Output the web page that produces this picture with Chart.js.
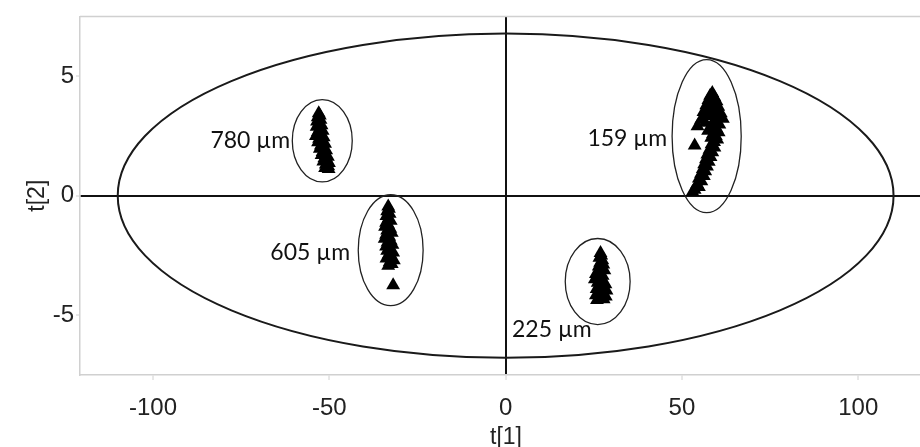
<!DOCTYPE html>
<html>
<head>
<meta charset="utf-8">
<script src="https://cdn.jsdelivr.net/npm/chart.js@4/dist/chart.umd.min.js"></script>
<style>
  html, body { margin: 0; padding: 0; background: #fff; overflow: hidden; }
  #wrap { width: 920px; height: 447px; overflow: hidden; }
</style>
</head>
<body>
<div id="wrap"><canvas id="c" width="932" height="447"></canvas></div>
<script>
// Score plot: t[1] vs t[2] for four particle sizes
const xTicks = [-100, -50, 0, 50, 100];
const yTicks = [-5, 0, 5];

const groupNames = ['780 µm', '605 µm', '159 µm', '225 µm'];

// [t1, t2] scores per sample
const scores780 = [
  [-53.0, 3.45], [-52.7, 3.35], [-53.3, 3.28], [-52.5, 3.18], [-53.5, 3.10],
  [-52.9, 3.02], [-52.2, 2.95], [-53.6, 2.88], [-52.7, 2.80], [-51.9, 2.72],
  [-53.3, 2.65], [-52.4, 2.58], [-53.8, 2.50], [-51.6, 2.44], [-52.9, 2.38],
  [-52.0, 2.30], [-53.2, 2.24], [-51.2, 2.17], [-52.4, 2.10], [-51.6, 2.03],
  [-52.7, 1.96], [-50.9, 1.90], [-51.9, 1.83], [-51.2, 1.77], [-52.2, 1.70],
  [-50.4, 1.63], [-51.4, 1.57], [-50.7, 1.50], [-51.7, 1.43], [-50.1, 1.37],
  [-51.0, 1.30], [-50.3, 1.23], [-51.2, 1.16], [-50.2, 1.12]
];
const scores605 = [
  [-33.3, -0.45], [-33.1, -0.55], [-33.6, -0.65], [-32.9, -0.75], [-33.8, -0.85],
  [-33.2, -0.95], [-32.6, -1.05], [-33.9, -1.13], [-33.3, -1.22], [-34.2, -1.30],
  [-32.7, -1.38], [-33.6, -1.46], [-32.3, -1.55], [-33.9, -1.63], [-33.0, -1.72],
  [-34.3, -1.80], [-32.6, -1.88], [-33.5, -1.96], [-32.1, -2.05], [-33.9, -2.13],
  [-32.8, -2.22], [-33.6, -2.30], [-31.9, -2.38], [-33.2, -2.47], [-32.5, -2.55],
  [-33.8, -2.63], [-31.7, -2.70], [-32.9, -2.78], [-32.3, -2.86], [-33.3, -2.93],
  [-31.9, -3.75]
];
const scores159 = [
  [58.6, 4.30], [58.0, 4.18], [59.2, 4.12], [57.5, 4.00], [59.8, 3.95],
  [58.4, 3.85], [56.9, 3.78], [60.3, 3.72], [57.8, 3.62], [59.4, 3.58],
  [56.1, 3.50], [61.0, 3.45], [58.6, 3.40], [57.2, 3.33], [60.2, 3.28],
  [61.6, 3.22], [55.4, 3.18], [59.0, 3.10], [56.6, 3.05], [60.6, 2.98],
  [54.4, 2.90], [58.2, 2.88], [59.8, 2.80], [57.4, 2.72], [60.4, 2.65],
  [58.8, 2.58], [59.6, 2.50], [58.3, 2.42], [60.0, 2.35], [59.1, 2.25],
  [58.4, 2.15], [53.6, 2.10], [59.2, 2.02], [57.8, 1.92], [58.6, 1.82],
  [57.2, 1.72], [58.1, 1.62], [56.8, 1.52], [57.6, 1.42], [56.3, 1.32],
  [57.1, 1.22], [55.9, 1.12], [56.6, 1.02], [55.4, 0.92], [56.2, 0.82],
  [54.8, 0.72], [55.5, 0.60], [54.3, 0.48], [54.8, 0.36], [53.6, 0.25],
  [53.0, 0.15]
];
const scores225 = [
  [26.9, -2.40], [27.1, -2.50], [26.6, -2.60], [27.4, -2.70], [26.8, -2.80],
  [27.7, -2.88], [26.4, -2.96], [27.3, -3.04], [28.0, -3.12], [26.7, -3.20],
  [25.6, -3.28], [27.5, -3.35], [26.2, -3.42], [25.3, -3.50], [27.0, -3.57],
  [26.1, -3.64], [28.3, -3.70], [26.8, -3.77], [27.6, -3.84], [25.8, -3.90],
  [28.6, -3.97], [26.5, -4.03], [27.4, -4.10], [25.6, -4.16], [28.4, -4.22],
  [26.8, -4.28], [27.8, -4.33], [25.9, -4.36]
];

// Hotelling T2 ellipse (semi-axes in t[1], t[2] units)
const t2Radius = [110, 6.78];

// Group ellipses: centres and semi-axes
const groupCx = [-52.0, -32.6, 57.0, 26.1];
const groupCy = [2.30, -2.28, 2.49, -3.59];
const groupRx = [8.5, 9.2, 9.8, 9.2];
const groupRy = [1.72, 2.32, 3.20, 1.80];

// Group label anchors (data units) and alignment
const labelAnchors = [
  { x: -61.1, y: 2.32, align: 'right' },
  { x: -44.1, y: -2.37, align: 'right' },
  { x: 45.8, y: 2.37, align: 'right' },
  { x: 1.8, y: -5.6, align: 'left' }
];

const toPts = arr => arr.map(p => ({ x: p[0], y: p[1] }));

const overlay = {
  id: 'overlay',
  beforeDatasetsDraw(chart) {
    const { ctx, chartArea: a, scales: { x, y } } = chart;
    ctx.save();
    // top frame line
    ctx.strokeStyle = '#d0d0d0';
    ctx.lineWidth = 1.5;
    ctx.beginPath();
    ctx.moveTo(a.left, a.top);
    ctx.lineTo(a.right, a.top);
    ctx.stroke();

    ctx.beginPath();
    ctx.rect(a.left, a.top, a.right - a.left, a.bottom - a.top);
    ctx.clip();

    // T2 ellipse
    const cx0 = x.getPixelForValue(0), cy0 = y.getPixelForValue(0);
    ctx.strokeStyle = '#1a1a1a';
    ctx.lineWidth = 2;
    ctx.beginPath();
    ctx.ellipse(cx0, cy0,
      Math.abs(x.getPixelForValue(t2Radius[0]) - cx0),
      Math.abs(y.getPixelForValue(t2Radius[1]) - cy0), 0, 0, Math.PI * 2);
    ctx.stroke();

    // group ellipses
    ctx.lineWidth = 1.3;
    ctx.strokeStyle = '#222';
    for (let i = 0; i < groupCx.length; i++) {
      const px = x.getPixelForValue(groupCx[i]);
      const py = y.getPixelForValue(groupCy[i]);
      const rx = Math.abs(x.getPixelForValue(groupCx[i] + groupRx[i]) - px);
      const ry = Math.abs(y.getPixelForValue(groupCy[i] + groupRy[i]) - py);
      ctx.beginPath();
      ctx.ellipse(px, py, rx, ry, 0, 0, Math.PI * 2);
      ctx.stroke();
    }
    ctx.restore();
  },
  afterDatasetsDraw(chart) {
    const { ctx, scales: { x, y } } = chart;
    ctx.save();
    ctx.fillStyle = '#111';
    ctx.font = '23px Lato, "Open Sans", sans-serif';
    ctx.textBaseline = 'middle';
    labelAnchors.forEach((l, i) => {
      ctx.textAlign = l.align;
      ctx.fillText(groupNames[i], x.getPixelForValue(l.x), y.getPixelForValue(l.y));
    });
    ctx.restore();
  }
};

const zeroLine = ctx => (ctx.tick && ctx.tick.value === 0) ? '#111' : 'rgba(0,0,0,0)';

const tickFont = { family: '"Liberation Sans", Arial, sans-serif', size: 24 };
const titleFont = { family: '"Liberation Sans", Arial, sans-serif', size: 23, lineHeight: 0.8 };

new Chart(document.getElementById('c'), {
  type: 'scatter',
  data: {
    datasets: [scores780, scores605, scores159, scores225].map((s, i) => ({
      label: groupNames[i],
      data: toPts(s),
      pointStyle: 'triangle',
      pointRadius: 8,
      pointHoverRadius: 8,
      backgroundColor: '#000',
      borderColor: '#000',
      borderWidth: 0
    }))
  },
  plugins: [overlay],
  options: {
    responsive: false,
    animation: false,
    events: [],
    layout: { autoPadding: false, padding: { top: 14, right: 0, bottom: 0, left: 0 } },
    plugins: { legend: { display: false }, tooltip: { enabled: false } },
    scales: {
      x: {
        type: 'linear',
        min: -120.7,
        max: 120.9,
        afterBuildTicks: s => { s.ticks = xTicks.map(v => ({ value: v })); },
        afterFit: s => { s.height = 72; },
        ticks: { color: '#222', font: tickFont, padding: 14, maxRotation: 0 },
        grid: { color: zeroLine, lineWidth: 2, tickColor: '#d0d0d0', tickLength: 5, tickWidth: 1 },
        border: { color: '#d0d0d0', width: 1.5 },
        title: {
          display: true, text: 't[1]', color: '#222', font: titleFont,
          padding: { top: 1, bottom: 0 }
        }
      },
      y: {
        type: 'linear',
        min: -7.5,
        max: 7.5,
        afterBuildTicks: s => { s.ticks = yTicks.map(v => ({ value: v })); },
        afterFit: s => { s.width = 80; },
        ticks: { color: '#222', font: tickFont, padding: 2 },
        grid: { color: zeroLine, lineWidth: 2, tickColor: '#d0d0d0', tickLength: 4, tickWidth: 1 },
        border: { color: '#d0d0d0', width: 1.5 },
        title: {
          display: true, text: 't[2]', color: '#222', font: titleFont,
          padding: { top: 28, bottom: 0 }
        }
      }
    }
  }
});
</script>
</body>
</html>
